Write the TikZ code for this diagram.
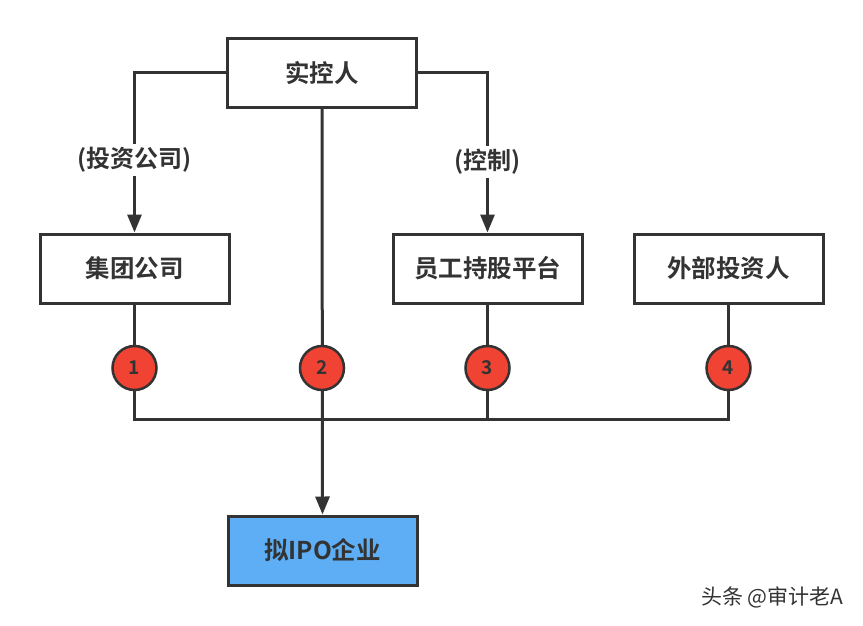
\documentclass[tikz,border=0pt]{standalone}
\usepackage{fontspec}
\newfontfamily\cjk{Noto Sans CJK SC}[BoldFont={Noto Sans CJK SC Bold}]
\usetikzlibrary{arrows.meta}
\definecolor{ln}{HTML}{333333}
\definecolor{rd}{HTML}{F04333}
\definecolor{bl}{HTML}{5DAEF5}
\tikzset{
  box/.style={draw=ln, line width=3pt, fill=white, minimum width=189pt, minimum height=69pt, inner sep=0pt, font=\cjk\bfseries\fontsize{24.5}{28}\selectfont, text=ln},
  num/.style={circle, draw=ln, line width=2.5pt, fill=rd, minimum size=44pt, inner sep=0pt, font=\cjk\bfseries\fontsize{19}{22}\selectfont, text=ln},
  conn/.style={draw=ln, line width=3pt},
  arr/.style={conn, -{Triangle[width=14pt,length=18pt]}},
  lbl/.style={fill=white, inner sep=3pt, font=\cjk\bfseries\fontsize{24}{27}\selectfont, text=ln}
}
\begin{document}
\begin{tikzpicture}[x=1pt,y=-1pt]
\useasboundingbox (0,0) rectangle (863,626);
\node[box] (ctrl) at (322,73) {实控人};
\node[box] (grp) at (134.5,268.5) {集团公司};
\node[box] (esop) at (487.5,268.5) {员工持股平台};
\node[box] (ext) at (728.5,268.5) {外部投资人};
\node[box, fill=bl] (ipo) at (322.5,550.5) {拟IPO企业};
\coordinate (bl) at (134.5,419);
\coordinate (br) at (728.5,419);
\coordinate (b3) at (487.5,419);
% connectors
\draw[arr] (ctrl.west) -| (grp.north);
\draw[arr] (ctrl.east) -| (esop.north);
\draw[arr] (ctrl.south) -- (ipo.north);
\draw[conn] (grp.south) -- (bl) -- (br) -- (ext.south);
\draw[conn] (esop.south) -- (b3);
% labels
\node[lbl] (l1) at (134.5,160) {(投资公司)};
\node[lbl] (l2) at (487.5,162) {(控制)};
% numbers
\node[num] (n1) at (134.5,368) {1};
\node[num] (n2) at (322,368) {2};
\node[num] (n3) at (487.5,368) {3};
\node[num] (n4) at (728.5,368) {4};
\node[font=\cjk\fontsize{21}{24}\selectfont, text=ln, anchor=east] (wm) at (847,597) {头条 @审计老A};
\end{tikzpicture}
\end{document}
